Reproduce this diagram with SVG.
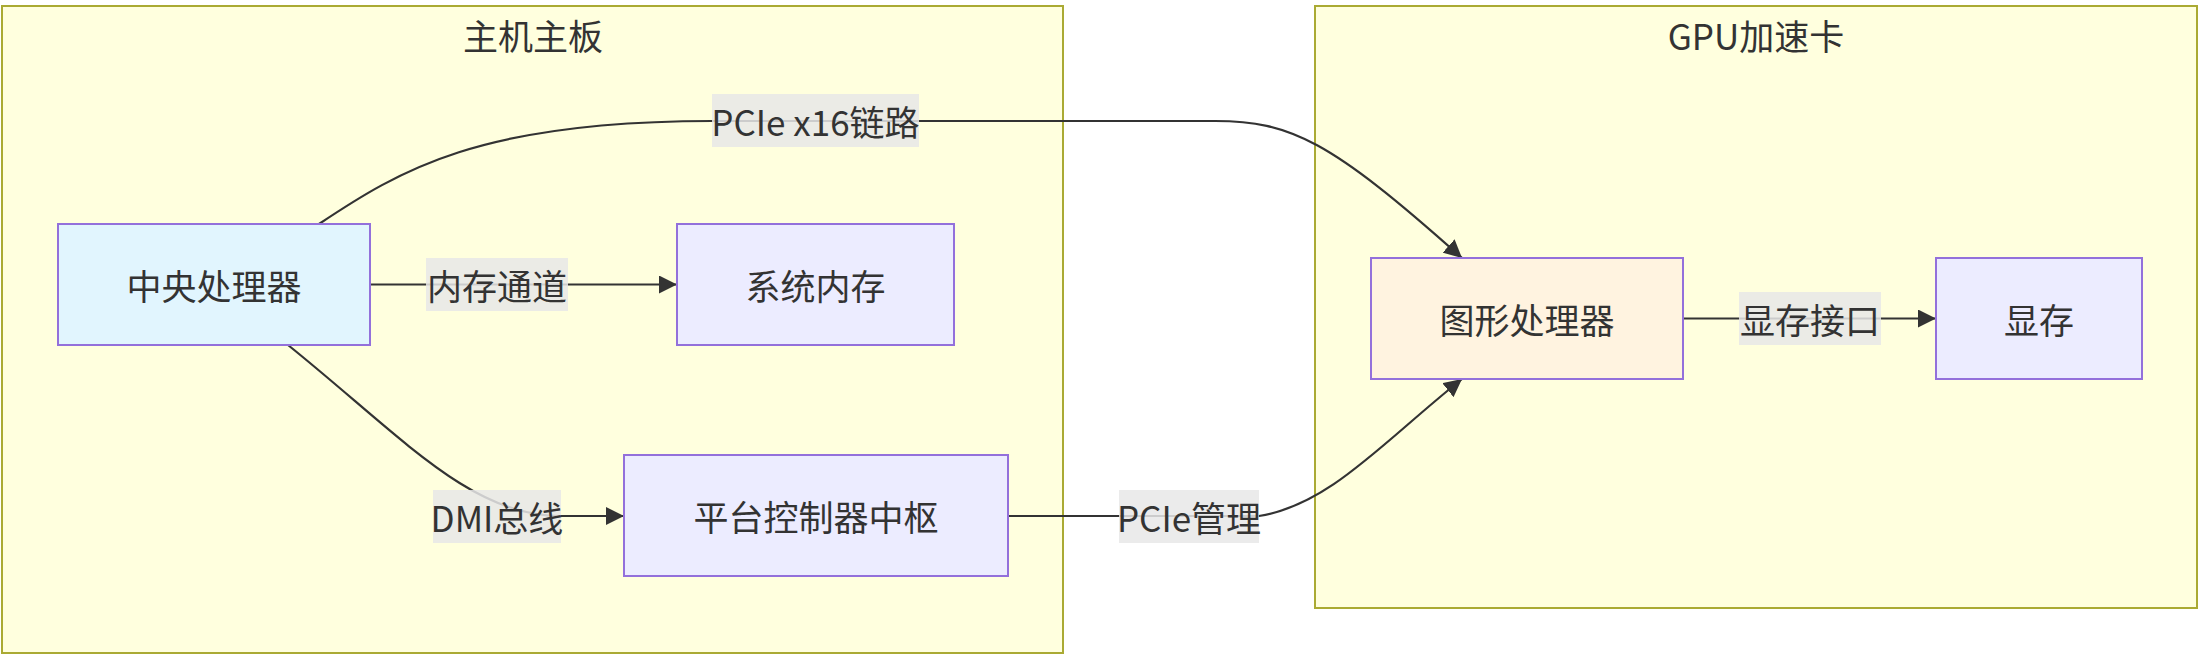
<svg xmlns="http://www.w3.org/2000/svg" width="2204" height="659" viewBox="0 0 2204 659">
<defs>
<marker id="arrow" viewBox="0 0 10 10" refX="10" refY="5" markerUnits="userSpaceOnUse" markerWidth="18" markerHeight="18" orient="auto">
<path d="M0,0 L10,5 L0,10 z" fill="#333"/>
</marker>
</defs>
<style>
text{font-family:"Noto Sans CJK SC","Noto Sans",sans-serif;font-size:35px;fill:#333;text-anchor:middle;dominant-baseline:central}
.cluster{fill:#ffffde;stroke:#aaaa33;stroke-width:2}
.node{fill:#ECECFF;stroke:#9370DB;stroke-width:2}
.edge{fill:none;stroke:#333;stroke-width:2.2}
.lbl{fill:#e8e8e8;opacity:0.85}
</style>
<rect width="2204" height="659" fill="#ffffff"/>
<g id="cluster-host">
<rect class="cluster" x="2" y="6" width="1061" height="647"/>
<text x="533" y="34">主机主板</text>
</g>
<g id="cluster-gpu">
<rect class="cluster" x="1315" y="6" width="882" height="602"/>
<text x="1756" y="34">GPU加速卡</text>
</g>
<g id="edges">
<path class="edge" d="M319,224 C400,170 480,121 712,121 L1215,121 C1290,121 1330,140 1462,258" marker-end="url(#arrow)"/>
<path class="edge" d="M370,284.5 L677,284.5" marker-end="url(#arrow)"/>
<path class="edge" d="M288,345 C400,435 470,516 560,516 L624,516" marker-end="url(#arrow)"/>
<path class="edge" d="M1008,516 L1259,516 C1330,505 1385,440 1462,379" marker-end="url(#arrow)"/>
<path class="edge" d="M1683,318.5 L1936,318.5" marker-end="url(#arrow)"/>
</g>
<g id="edge-labels">
<g id="label-pcie16"><rect class="lbl" x="712" y="94" width="207" height="53"/><text x="815.5" y="120.5">PCIe x16链路</text></g>
<g id="label-mem"><rect class="lbl" x="426" y="258" width="142" height="53"/><text x="497" y="284.5">内存通道</text></g>
<g id="label-dmi"><rect class="lbl" x="433" y="490" width="128" height="53"/><text x="497" y="516.5">DMI总线</text></g>
<g id="label-pciemgmt"><rect class="lbl" x="1119" y="490" width="140" height="53"/><text x="1189" y="516.5">PCIe管理</text></g>
<g id="label-vram"><rect class="lbl" x="1739" y="292" width="142" height="53"/><text x="1810" y="318.5">显存接口</text></g>
</g>
<g id="node-cpu"><rect class="node" x="58" y="224" width="312" height="121" style="fill:#e1f5fe"/><text x="214" y="284.5">中央处理器</text></g>
<g id="node-ram"><rect class="node" x="677" y="224" width="277" height="121"/><text x="815.5" y="284.5">系统内存</text></g>
<g id="node-pch"><rect class="node" x="624" y="455" width="384" height="121"/><text x="816" y="515.5">平台控制器中枢</text></g>
<g id="node-gpu"><rect class="node" x="1371" y="258" width="312" height="121" style="fill:#fff3e0"/><text x="1527" y="318.5">图形处理器</text></g>
<g id="node-vram"><rect class="node" x="1936" y="258" width="206" height="121"/><text x="2039" y="318.5">显存</text></g>
</svg>
